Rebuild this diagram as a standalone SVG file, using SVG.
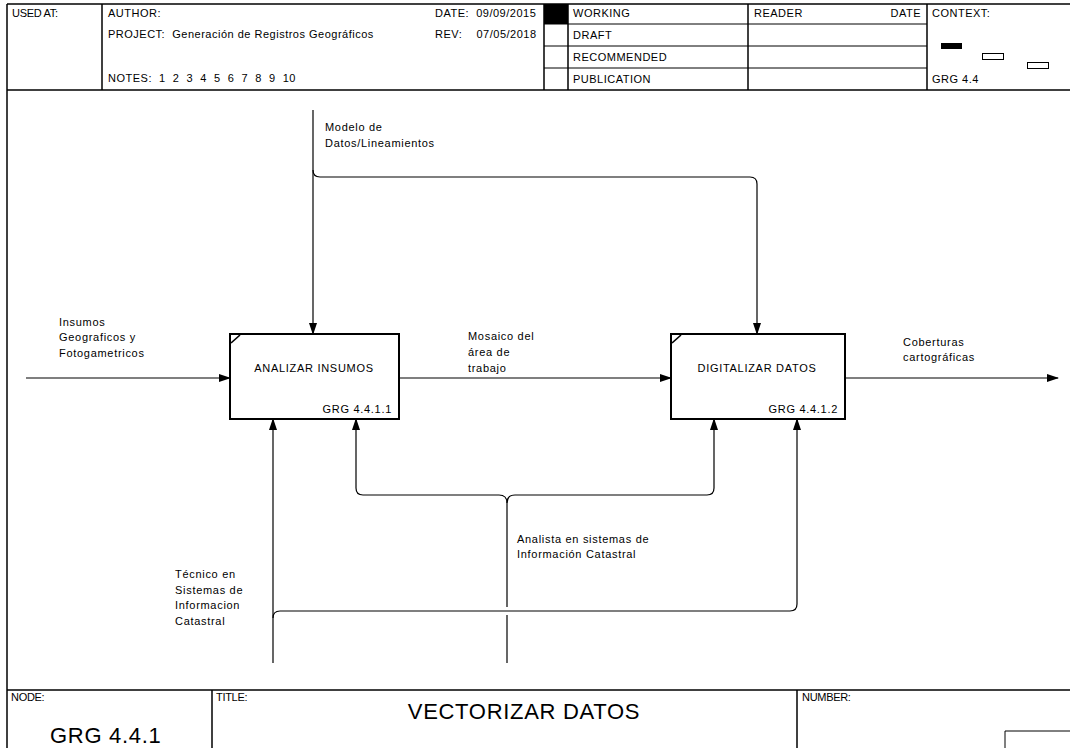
<svg xmlns="http://www.w3.org/2000/svg" width="1070" height="748" viewBox="0 0 1070 748">
<defs>
<marker id="ah" markerWidth="12" markerHeight="8" refX="11" refY="4" orient="auto" markerUnits="userSpaceOnUse">
<path d="M0,0 L12,4 L0,8 Z" fill="#000"/>
</marker>
<style>
text{font-family:"Liberation Sans",Arial,sans-serif;font-size:11px;fill:#000;letter-spacing:0.7px;white-space:pre}
.hd{font-size:11px;letter-spacing:0.5px}
.lb{font-size:11px;letter-spacing:-0.3px}
.big{font-size:22px;letter-spacing:0.7px}
.frame{fill:none;stroke:#000;stroke-width:1.5}
.thin{fill:none;stroke:#000;stroke-width:1}
.corner{fill:none;stroke:#000;stroke-width:1.6}
.box{fill:#fff;stroke:#000;stroke-width:2}
.arc{fill:none;stroke:#000;stroke-width:1.2}
</style>
</defs>
<rect width="1070" height="748" fill="#fff"/>
<g id="header">
<line class="frame" x1="7" y1="4" x2="1070" y2="4"/>
<line class="frame" x1="7" y1="90" x2="1070" y2="90"/>
<line class="frame" x1="7" y1="4" x2="7" y2="748"/>
<line class="frame" x1="102" y1="4" x2="102" y2="90"/>
<line class="frame" x1="544" y1="4" x2="544" y2="90"/>
<line class="frame" x1="568" y1="4" x2="568" y2="90"/>
<line class="frame" x1="748" y1="4" x2="748" y2="90"/>
<line class="frame" x1="927" y1="4" x2="927" y2="90"/>
<line class="thin" x1="544" y1="24" x2="927" y2="24"/>
<line class="thin" x1="544" y1="46" x2="927" y2="46"/>
<line class="thin" x1="544" y1="68" x2="927" y2="68"/>
<rect x="544" y="4" width="24" height="20" fill="#000"/>
<text class="lb" x="12" y="17">USED AT:</text>
<text class="hd" x="108" y="17">AUTHOR:</text>
<text class="hd" x="108" y="38" xml:space="preserve">PROJECT:  Generación de Registros Geográficos</text>
<text class="hd" x="108" y="82" xml:space="preserve">NOTES:  1  2  3  4  5  6  7  8  9  10</text>
<text class="hd" x="435" y="17" xml:space="preserve">DATE:  09/09/2015</text>
<text class="hd" x="435" y="38" xml:space="preserve">REV:    07/05/2018</text>
<text class="hd" x="573" y="17">WORKING</text>
<text class="hd" x="573" y="39">DRAFT</text>
<text class="hd" x="573" y="61">RECOMMENDED</text>
<text class="hd" x="573" y="83">PUBLICATION</text>
<text class="hd" x="754" y="17">READER</text>
<text class="hd" x="921" y="17" text-anchor="end">DATE</text>
<text class="hd" x="932" y="17">CONTEXT:</text>
<text class="hd" x="932" y="83">GRG 4.4</text>
<rect x="941" y="43" width="21" height="6" fill="#000"/>
<rect x="982.5" y="53.5" width="21" height="6" fill="#fff" stroke="#000" stroke-width="1"/>
<rect x="1027.5" y="62.5" width="21" height="6" fill="#fff" stroke="#000" stroke-width="1"/>
</g>
<g id="footer">
<line class="frame" x1="7" y1="690" x2="1070" y2="690"/>
<line class="frame" x1="212" y1="690" x2="212" y2="748"/>
<line class="frame" x1="797" y1="690" x2="797" y2="748"/>
<text class="lb" x="11" y="701">NODE:</text>
<text class="big" x="50" y="743">GRG 4.4.1</text>
<text class="lb" x="216" y="701">TITLE:</text>
<text class="big" x="524" y="719" text-anchor="middle">VECTORIZAR DATOS</text>
<text class="lb" x="802" y="701">NUMBER:</text>
<polyline class="thin" points="1005,748 1005,731 1070,731"/>
</g>
<g id="connectors">
<line class="arc" x1="26" y1="378" x2="230" y2="378" marker-end="url(#ah)"/>
<line class="arc" x1="399" y1="378" x2="671" y2="378" marker-end="url(#ah)"/>
<line class="arc" x1="845" y1="378" x2="1058" y2="378" marker-end="url(#ah)"/>
<line class="arc" x1="313" y1="110" x2="313" y2="334" marker-end="url(#ah)"/>
<path class="arc" d="M313,170 Q313,177 320,177 L750,177 Q757,177 757,184 L757,334" marker-end="url(#ah)"/>
<line class="arc" x1="273" y1="663" x2="273" y2="419" marker-end="url(#ah)"/>
<path class="arc" d="M273,618 Q273,611 280,611 L790,611 Q797,611 797,604 L797,419" marker-end="url(#ah)"/>
<path class="arc" d="M507,607 L507,503 Q507,495 499,495 L363,495 Q356,495 356,488 L356,419" marker-end="url(#ah)"/>
<path class="arc" d="M507,503 Q507,495 515,495 L707,495 Q714,495 714,488 L714,419" marker-end="url(#ah)"/>
<line class="arc" x1="507" y1="615" x2="507" y2="663"/>
<text x="59" y="326">Insumos</text>
<text x="59" y="341">Geograficos y</text>
<text x="59" y="357">Fotogametricos</text>
<text x="468" y="340">Mosaico del</text>
<text x="468" y="356">área de</text>
<text x="468" y="372">trabajo</text>
<text x="903" y="346">Coberturas</text>
<text x="903" y="361">cartográficas</text>
<text x="325" y="131">Modelo de</text>
<text x="325" y="147">Datos/Lineamientos</text>
<text x="517" y="543">Analista en sistemas de</text>
<text x="517" y="558">Información Catastral</text>
<text x="175" y="578">Técnico en</text>
<text x="175" y="594">Sistemas de</text>
<text x="175" y="609">Informacion</text>
<text x="175" y="625">Catastral</text>
</g>
<g id="node1">
<rect class="box" x="230" y="334" width="169" height="85"/>
<line class="corner" x1="231" y1="343" x2="240" y2="335"/>
<text x="314" y="372" text-anchor="middle">ANALIZAR INSUMOS</text>
<text x="392" y="413" text-anchor="end">GRG 4.4.1.1</text>
</g>
<g id="node2">
<rect class="box" x="671" y="334" width="174" height="85"/>
<line class="corner" x1="672" y1="343" x2="681" y2="335"/>
<text x="757" y="372" text-anchor="middle">DIGITALIZAR DATOS</text>
<text x="838" y="413" text-anchor="end">GRG 4.4.1.2</text>
</g>
</svg>
